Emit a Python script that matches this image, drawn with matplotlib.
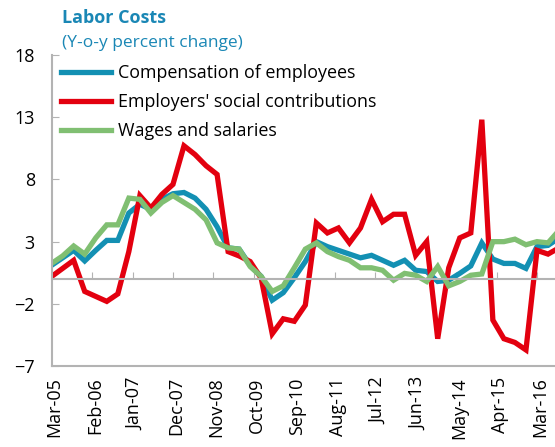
import numpy as np
import matplotlib
matplotlib.use("Agg")
import matplotlib.pyplot as plt
import matplotlib.transforms as mtransforms

plt.rcParams["font.family"] = ["Open Sans", "DejaVu Sans"]

# quarterly y-o-y % change, starting Mar-05
compensation = [1.1, 1.7, 2.3, 1.45, 2.3, 3.1, 3.1, 5.3, 6.0, 5.6, 6.4, 6.85,
                6.95, 6.5, 5.6, 4.2, 2.5, 2.4, 1.1, 0.2, -1.7, -1.1, 0.1, 1.4,
                3.0, 2.6, 2.3, 2.0, 1.7, 1.9, 1.5, 1.1, 1.5, 0.7, 0.6, -0.2,
                -0.1, 0.45, 1.05, 2.9, 1.6, 1.25, 1.25, 0.85, 2.6, 2.7, 3.3]
social = [0.2, 0.85, 1.5, -1.0, -1.4, -1.8, -1.2, 2.2, 6.7, 5.7, 6.8, 7.6,
          10.7, 10.0, 9.1, 8.4, 2.2, 1.85, 1.4, 0.05, -4.4, -3.2, -3.4, -2.1,
          4.5, 3.7, 4.1, 2.9, 4.1, 6.4, 4.6, 5.2, 5.2, 1.9, 3.0, -4.8,
          0.9, 3.3, 3.7, 12.8, -3.3, -4.8, -5.1, -5.7, 2.3, 2.0, 2.5]
wages = [1.25, 1.85, 2.65, 2.0, 3.3, 4.35, 4.35, 6.5, 6.4, 5.3, 6.15, 6.7,
         6.15, 5.6, 4.75, 2.9, 2.5, 2.4, 1.0, 0.2, -1.0, -0.55, 0.9, 2.4,
         2.9, 2.2, 1.8, 1.5, 0.9, 0.9, 0.7, -0.1, 0.45, 0.3, -0.2, 1.0,
         -0.55, -0.2, 0.3, 0.4, 3.0, 3.0, 3.2, 2.75, 3.0, 2.9, 3.9]
tick_labels = ["Mar-05", "Feb-06", "Jan-07", "Dec-07", "Nov-08", "Oct-09", "Sep-10",
               "Aug-11", "Jul-12", "Jun-13", "May-14", "Apr-15", "Mar-16"]

months = np.arange(len(compensation)) * 3   # months since Mar-05
tick_pos = np.arange(len(tick_labels)) * 11

blue, red, green = "#1390b3", "#e3000f", "#80bf72"
grey = "#b3b3b3"

fig = plt.figure(figsize=(5.55, 4.47), dpi=100)
ax = fig.add_axes([0.093, 0.181, 0.907, 0.696])

ax.plot(months, compensation, color=blue, lw=3.8, label="Compensation of employees", solid_joinstyle="miter")
ax.plot(months, social, color=red, lw=3.8, label="Employers' social contributions", solid_joinstyle="miter")
ax.plot(months, wages, color=green, lw=3.8, label="Wages and salaries", solid_joinstyle="miter")

ax.set_xlim(0, 136.9)
ax.set_ylim(-7, 18)
ax.set_yticks([-7, -2, 3, 8, 13, 18])
ax.tick_params(axis="y", direction="in", length=5, color=grey, labelsize=13, pad=12)

# zero line carries the tick marks
ax.spines["bottom"].set_position(("data", 0))
ax.spines["bottom"].set_color(grey)
ax.spines["bottom"].set_linewidth(1.5)
ax.spines["left"].set_color(grey)
ax.spines["left"].set_linewidth(1.5)
ax.spines["top"].set_visible(False)
ax.spines["right"].set_visible(False)
ax.set_xticks(tick_pos)
ax.tick_params(axis="x", direction="in", length=5, color=grey, labelbottom=False)

# labels along the bottom edge
sec = ax.secondary_xaxis("bottom")
sec.set_xticks(tick_pos)
sec.set_xticklabels(tick_labels, rotation=90, fontsize=13)
sec.tick_params(length=0, pad=8)
sec.spines["bottom"].set_color(grey)
sec.spines["bottom"].set_linewidth(1.5)
offset = mtransforms.ScaledTranslation(3 / 100, 0, fig.dpi_scale_trans)
for lbl in sec.get_xticklabels():
    lbl.set_transform(lbl.get_transform() + offset)

ax.legend(loc="upper left", bbox_to_anchor=(0.0, 1.0), frameon=False, fontsize=12.9,
          handlelength=2.8, handletextpad=0.4, labelspacing=0.62, borderaxespad=0.1)

fig.text(62 / 555, 1 - 18 / 447, "Labor Costs", color="#1a87b5", fontsize=13,
         fontweight="bold", va="center", ha="left")
fig.text(62 / 555, 1 - 43 / 447, "(Y-o-y percent change)", color="#1a87b5", fontsize=12.5,
         va="center", ha="left")

fig.savefig("out.png", dpi=100)
